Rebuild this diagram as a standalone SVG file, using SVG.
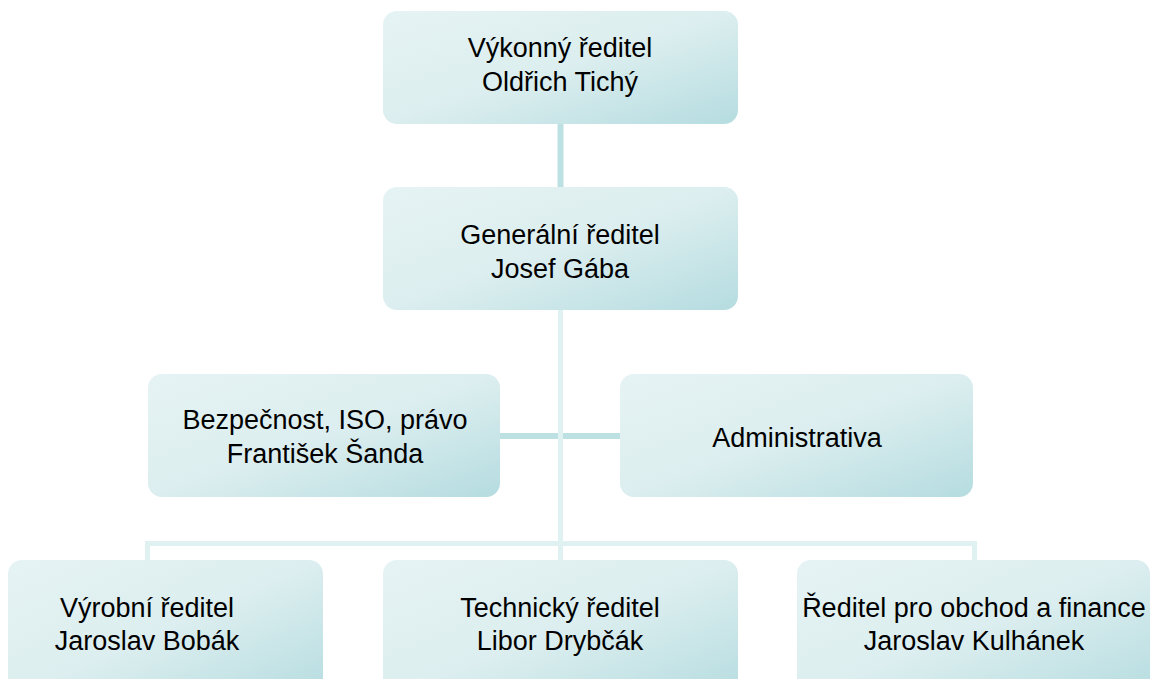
<svg xmlns="http://www.w3.org/2000/svg" width="1159" height="679" viewBox="0 0 1159 679">
  <defs>
    <linearGradient id="fill" x1="0" y1="0" x2="1" y2="1">
      <stop offset="0" stop-color="#e6f3f4"/>
      <stop offset="0.5" stop-color="#dceeef"/>
      <stop offset="1" stop-color="#b5dce0"/>
    </linearGradient>
    <style>
      .box { fill: url(#fill); }
      .lbl { font-family: "Liberation Sans", Arial, sans-serif; font-size: 27px; fill: #000; text-anchor: middle; }
      .cd { stroke: #bde0e3; stroke-width: 6; fill: none; }
      .cl { stroke: #e0f1f2; stroke-width: 5; fill: none; }
    </style>
  </defs>
  <rect width="1159" height="679" fill="#ffffff"/>
  <g id="connectors">
    <line class="cd" x1="560.5" y1="124" x2="560.5" y2="187"/>
    <line class="cd" x1="500" y1="436" x2="620" y2="436"/>
    <polyline class="cl" points="147.5,560 147.5,543.5 974.5,543.5 974.5,560"/>
    <line class="cl" x1="560.5" y1="310" x2="560.5" y2="560"/>
  </g>
  <g id="n-vykonny">
    <rect class="box" x="383" y="11" width="355" height="113" rx="14"/>
    <text class="lbl" x="560" y="57">Výkonný ředitel</text>
    <text class="lbl" x="560" y="91">Oldřich Tichý</text>
  </g>
  <g id="n-generalni">
    <rect class="box" x="383" y="187" width="355" height="123" rx="14"/>
    <text class="lbl" x="560" y="244">Generální ředitel</text>
    <text class="lbl" x="560" y="278">Josef Gába</text>
  </g>
  <g id="n-bezpecnost">
    <rect class="box" x="148" y="374" width="352" height="123" rx="14"/>
    <text class="lbl" x="325" y="429">Bezpečnost, ISO, právo</text>
    <text class="lbl" x="325" y="463">František Šanda</text>
  </g>
  <g id="n-administrativa">
    <rect class="box" x="620" y="374" width="353" height="123" rx="14"/>
    <text class="lbl" x="797" y="447">Administrativa</text>
  </g>
  <g id="n-vyrobni">
    <rect class="box" x="8" y="560" width="315" height="140" rx="14"/>
    <text class="lbl" x="147" y="617">Výrobní ředitel</text>
    <text class="lbl" x="147" y="650">Jaroslav Bobák</text>
  </g>
  <g id="n-technicky">
    <rect class="box" x="383" y="560" width="355" height="140" rx="14"/>
    <text class="lbl" x="560" y="617">Technický ředitel</text>
    <text class="lbl" x="560" y="650">Libor Drybčák</text>
  </g>
  <g id="n-obchod">
    <rect class="box" x="797" y="560" width="353" height="140" rx="14"/>
    <text class="lbl" x="974" y="617">Ředitel pro obchod a finance</text>
    <text class="lbl" x="974" y="650">Jaroslav Kulhánek</text>
  </g>
</svg>
